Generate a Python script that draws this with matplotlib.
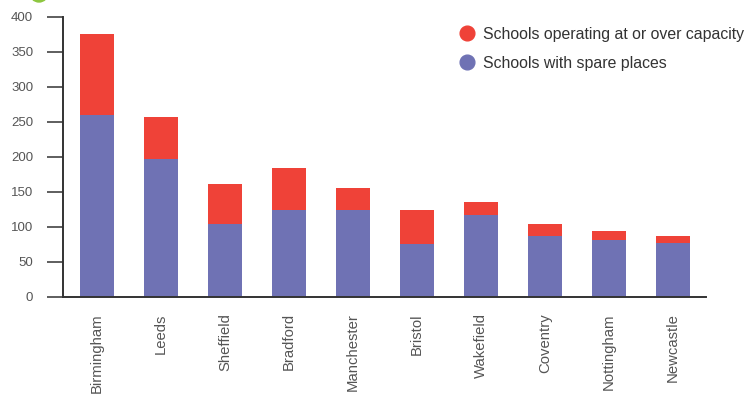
import matplotlib
matplotlib.use("Agg")
import matplotlib.pyplot as plt
from matplotlib.lines import Line2D
from matplotlib.patches import Ellipse

cities = ["Birmingham", "Leeds", "Sheffield", "Bradford", "Manchester",
          "Bristol", "Wakefield", "Coventry", "Nottingham", "Newcastle"]
spare = [260, 196, 103, 124, 124, 75, 116, 86, 81, 76]
total = [375, 257, 161, 184, 155, 124, 135, 103, 94, 87]
over = [t - s for t, s in zip(total, spare)]
yticks = [0, 50, 100, 150, 200, 250, 300, 350, 400]

RED = "#EF4238"
BLUE = "#6F72B4"
TXT = "#555555"
AX = "#333333"

plt.rcParams["font.family"] = ["Liberation Sans", "DejaVu Sans"]

fig = plt.figure(figsize=(7.51, 3.96), dpi=100)
ax = fig.add_axes([63/751, 1 - 296.5/396, (706-63)/751, (296.5-16.7)/396])

x = list(range(len(cities)))
ax.bar(x, spare, width=0.53, color=BLUE, zorder=2)
ax.bar(x, over, bottom=spare, width=0.53, color=RED, zorder=2)

ax.set_xlim(-0.53, len(cities) - 1 + 0.52)
ax.set_ylim(0, 400)
ax.set_yticks(yticks)
ax.set_yticklabels([str(v) for v in yticks])
ax.set_xticks(x)
ax.set_xticklabels(cities, rotation=90, va="top", ha="center")

for s in ["top", "right"]:
    ax.spines[s].set_visible(False)
for s in ["left", "bottom"]:
    ax.spines[s].set_color(AX)
    ax.spines[s].set_linewidth(1.4)

ax.tick_params(axis="y", direction="out", length=11.5, width=1.1, color=AX,
               pad=10, labelsize=9.5, labelcolor=TXT)
ax.tick_params(axis="x", length=0, pad=12, labelsize=10.7, labelcolor=TXT)

handles = [Line2D([], [], marker="o", linestyle="none", markersize=10.6,
                  markerfacecolor=RED, markeredgecolor=RED),
           Line2D([], [], marker="o", linestyle="none", markersize=10.6,
                  markerfacecolor=BLUE, markeredgecolor=BLUE)]
leg = ax.legend(handles, ["Schools operating at or over capacity", "Schools with spare places"],
                loc="upper left", bbox_to_anchor=(451/751, 1 - 19/396),
                bbox_transform=fig.transFigure, frameon=False, borderpad=0,
                handlelength=1.0, handletextpad=0.51, labelspacing=0.87,
                fontsize=11.4)
for t in leg.get_texts():
    t.set_color("#333333")

# decorative partial circle at top-left
fig.patches.append(Ellipse((39/751, 1 + 7/396), 18/751, 18/396,
                           transform=fig.transFigure, color="#8DC63F"))

fig.savefig("out.png", dpi=100)
